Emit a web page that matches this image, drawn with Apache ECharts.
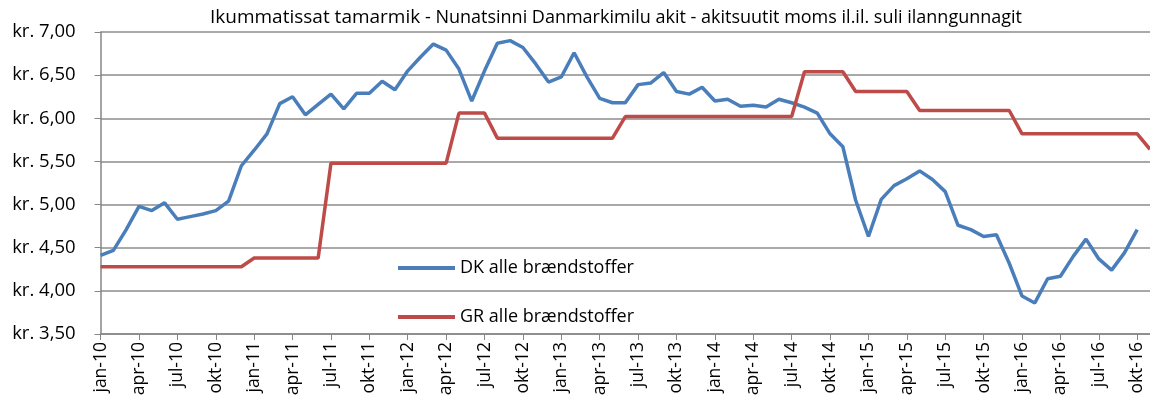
<!DOCTYPE html>
<html>
<head>
<meta charset="utf-8">
<script src="https://cdn.jsdelivr.net/npm/echarts@6/dist/echarts.min.js"></script>
<style>
html,body{margin:0;padding:0;background:#fff;}
#chart{width:1150px;height:403px;}
</style>
</head>
<body>
<div id="chart"></div>
<script>
const monthNames = ["jan","feb","mar","apr","maj","jun","jul","aug","sep","okt","nov","dec"];
const years = ["10","11","12","13","14","15","16"];
const categories = [];
for (const y of years) for (const m of monthNames) categories.push(m + "-" + y);
categories.length = 83; // jan-10 .. nov-16

const titleMain = "Ikummatissat tamarmik";
const titleSub = " - Nunatsinni Danmarkimilu akit - akitsuutit moms il.il. suli ilanngunnagit";
const seriesNames = ["DK alle brændstoffer", "GR alle brændstoffer"];

const dkValues = [
  4.41,4.47,4.71,4.98,4.93,5.02,4.83,4.86,4.89,4.93,5.04,5.45,
  5.63,5.82,6.17,6.25,6.04,6.16,6.28,6.11,6.29,6.29,6.43,6.33,
  6.55,6.71,6.86,6.79,6.57,6.20,6.55,6.87,6.90,6.82,6.63,6.42,
  6.48,6.76,6.48,6.23,6.18,6.18,6.39,6.41,6.53,6.31,6.28,6.36,
  6.20,6.22,6.14,6.15,6.13,6.22,6.18,6.13,6.06,5.82,5.67,5.05,
  4.63,5.06,5.22,5.30,5.39,5.29,5.15,4.76,4.71,4.63,4.65,4.32,
  3.94,3.86,4.14,4.17,4.40,4.60,4.37,4.24,4.44,4.71,null
];
const grValues = [
  4.28,4.28,4.28,4.28,4.28,4.28,4.28,4.28,4.28,4.28,4.28,4.28,
  4.38,4.38,4.38,4.38,4.38,4.38,5.48,5.48,5.48,5.48,5.48,5.48,
  5.48,5.48,5.48,5.48,6.06,6.06,6.06,5.77,5.77,5.77,5.77,5.77,
  5.77,5.77,5.77,5.77,5.77,6.02,6.02,6.02,6.02,6.02,6.02,6.02,
  6.02,6.02,6.02,6.02,6.02,6.02,6.02,6.54,6.54,6.54,6.54,6.31,
  6.31,6.31,6.31,6.31,6.09,6.09,6.09,6.09,6.09,6.09,6.09,6.09,
  5.82,5.82,5.82,5.82,5.82,5.82,5.82,5.82,5.82,5.82,5.64
];

const FONT = "Open Sans";
const chart = echarts.init(document.getElementById('chart'), null, {renderer:'canvas'});
chart.setOption({
  animation: false,
  backgroundColor: '#ffffff',
  title: {
    text: '{a|' + titleMain + '}{b|' + titleSub + '}',
    left: 205,
    top: 3,
    textStyle: {
      fontWeight: 'normal',
      rich: {
        a: {fontFamily: FONT, fontSize: 19, fontWeight: 'normal', color: '#000'},
        b: {fontFamily: FONT, fontSize: 18, fontWeight: 'normal', color: '#000'}
      }
    }
  },
  legend: {
    orient: 'vertical',
    left: 393,
    top: 254,
    itemGap: 31,
    itemWidth: 57,
    itemHeight: 4,
    icon: 'rect',
    textStyle: {fontFamily: FONT, fontSize: 18, color: '#000'},
    data: seriesNames
  },
  grid: {left: 100.6, right: 0, top: 32, bottom: 69, containLabel: false},
  xAxis: {
    type: 'category',
    data: categories,
    boundaryGap: false,
    axisLine: {lineStyle: {color: '#868686', width: 1.5}},
    axisTick: {show: true, interval: 2, length: 6, inside: false, lineStyle: {color: '#868686'}},
    axisLabel: {interval: 2, rotate: 90, fontFamily: FONT, fontSize: 17.5, color: '#000', margin: 8},
    splitLine: {show: false}
  },
  yAxis: {
    type: 'value',
    min: 3.5, max: 7, interval: 0.5,
    axisLine: {show: true, lineStyle: {color: '#868686', width: 1.5}},
    axisTick: {show: true, length: 6, lineStyle: {color: '#868686'}},
    axisLabel: {
      fontFamily: FONT, fontSize: 18.5, color: '#000', margin: 25,
      formatter: v => 'kr. ' + v.toFixed(2).replace('.', ',')
    },
    splitLine: {show: true, lineStyle: {color: '#8c8c8c', width: 1.5}}
  },
  series: [
    {name: seriesNames[0], type: 'line', data: dkValues, symbol: 'none', connectNulls: false,
     lineStyle: {color: '#4A7EBB', width: 3.5}, itemStyle: {color: '#4A7EBB'}},
    {name: seriesNames[1], type: 'line', data: grValues, symbol: 'none',
     lineStyle: {color: '#BE4B48', width: 3.5}, itemStyle: {color: '#BE4B48'}}
  ]
});
</script>
</body>
</html>
